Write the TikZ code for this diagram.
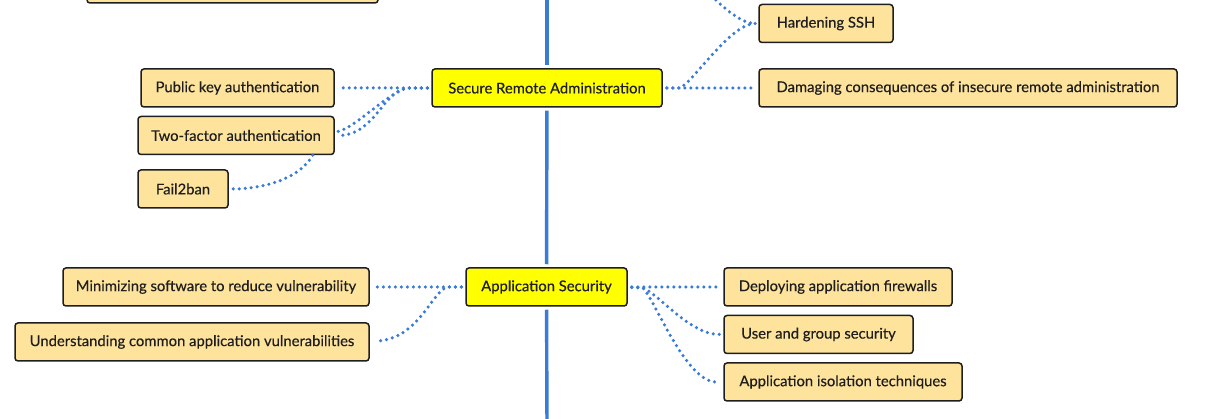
\documentclass[tikz,border=0pt]{standalone}
\usepackage{fontspec}
\setmainfont{Lato}
\newfontfamily\nodefont{Lato}[FakeBold=0.35]
\usetikzlibrary{calc}
\definecolor{boxfill}{HTML}{FEE39C}
\definecolor{mainfill}{HTML}{FFFF00}
\definecolor{edge}{HTML}{1E1E1E}
\definecolor{linkblue}{HTML}{3A7BD8}
\tikzset{
  topic/.style={draw=edge, line width=1.5pt, rounded corners=3pt, fill=boxfill,
    minimum height=38pt, inner sep=0pt, text=edge,
    font=\nodefont\fontsize{14.8}{17}\selectfont},
  maintopic/.style={topic, fill=mainfill},
  conn/.style={draw=linkblue, line width=3.5pt, line cap=round,
    dash pattern=on 0pt off 6pt},
  spine/.style={draw=linkblue, line width=3.4pt}
}
\begin{document}
\begin{tikzpicture}[x=1pt,y=-1pt]
\clip (0,0) rectangle (1208,419);
\fill[white] (0,0) rectangle (1208,419);
% nodes
\node[topic, minimum width=291pt] (toppart) at (232.5,-16) {};
\node[maintopic, minimum width=230pt] (sra) at (547,88) {Secure Remote Administration};
\node[topic, minimum width=193pt] (pka) at (237.5,88) {Public key authentication};
\node[topic, minimum width=196pt] (tfa) at (236,135.5) {Two-factor authentication};
\node[topic, minimum width=90pt] (f2b) at (183,189) {Fail2ban};
\node[topic, minimum width=134pt] (hssh) at (826,23.5) {Hardening SSH};
\node[topic, minimum width=418pt] (dmg) at (968,88) {Damaging consequences of insecure remote administration};
\node[maintopic, minimum width=161pt] (aps) at (546.5,287) {Application Security};
\node[topic, minimum width=306pt] (min) at (216,287) {Minimizing software to reduce vulnerability};
\node[topic, minimum width=354pt] (und) at (192,342) {Understanding common application vulnerabilities};
\node[topic, minimum width=228pt] (dep) at (838,287) {Deploying application firewalls};
\node[topic, minimum width=189pt] (ugs) at (818.5,334.5) {User and group security};
\node[topic, minimum width=238pt] (iso) at (843,382) {Application isolation techniques};
% free ends
\coordinate (sptop) at (547,-10);
\coordinate (spbot) at (547,430);
\coordinate (hsrc) at (690,-25);
% spine
\draw[spine, shorten >=3pt] (sptop) -- (sra);
\draw[spine, shorten <=3pt, shorten >=3pt] (sra) -- (aps);
\draw[spine, shorten <=3pt] (aps) -- (spbot);
% connectors: Secure Remote Administration
\draw[conn, shorten <=4pt, shorten >=4pt] (sra.west) -- (pka.east);
\draw[conn, shorten <=4pt] (sra.west) -- (407,88) .. controls (385,95) and (355,128) .. ($(tfa.east)+(3,-4)$);
\draw[conn, shorten <=4pt] (sra.west) -- (407,88) .. controls (382,92) and (375,135) .. ($(tfa.east)+(4,0)$);
\draw[conn] ($(tfa.south east)+(-22,0)$) .. controls (300,178) and (265,189) .. ($(f2b.east)+(3,0)$);
\draw[conn, shorten <=4pt, shorten >=4pt] (sra.east) -- (dmg.west);
\draw[conn, shorten <=4pt] (sra.east) -- (680,88) .. controls (695,80) and (730,24) .. ($(hssh.west)+(-3,0)$);
\draw[conn] (hsrc) .. controls (725,10) and (740,23) .. ($(hssh.west)+(-3,0)$);
% connectors: Application Security
\draw[conn, shorten <=4pt, shorten >=4pt] (aps.west) -- (min.east);
\draw[conn, shorten <=4pt] (aps.west) -- (448,287) .. controls (432,290) and (420,338) .. ($(und.east)+(8,-1)$);
\draw[conn, shorten <=4pt, shorten >=4pt] (aps.east) -- (dep.west);
\draw[conn, shorten <=4pt] (aps.east) -- (643,288) .. controls (660,295) and (690,335) .. ($(ugs.west)+(-3,0)$);
\draw[conn, shorten <=4pt] (aps.east) -- (643,288) .. controls (655,300) and (685,380) .. ($(iso.west)+(-8,0)$);
\end{tikzpicture}
\end{document}
